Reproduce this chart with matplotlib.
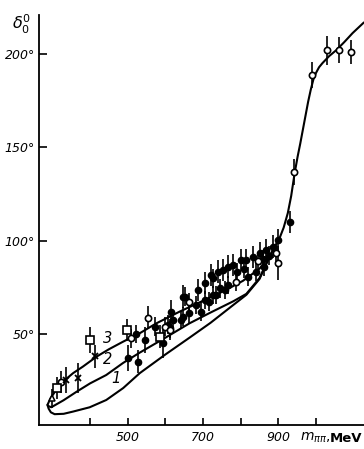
import matplotlib
matplotlib.use("Agg")
import matplotlib.pyplot as plt

# --- theory curves: phase shift delta_0^0 (deg) vs m_pipi (MeV) ---
curve3_m = [287, 295, 310, 328, 355, 381, 417, 450, 488, 532, 576, 638, 700, 760, 806, 850, 880]
curve3_d = [12, 15.5, 20, 24.4, 29, 32.5, 37.8, 41.8, 45.9, 50.4, 55.7, 62, 67.8, 73.5, 78.5, 85, 93]
curve2_m = [288, 297, 330, 364, 400, 443, 488, 532, 600, 664, 720, 780, 815, 850, 880]
curve2_d = [11.5, 10.7, 14.5, 19, 23.5, 28, 34.5, 40, 48, 55.7, 61.5, 67.5, 71.5, 80, 93]
curve1_m = [287, 290, 296, 306, 330, 355, 399, 443, 488, 532, 600, 664, 720, 780, 815, 850, 880]
curve1_d = [12, 10, 8, 7, 7.2, 8.4, 10.7, 14.6, 21, 29, 39, 48, 56, 65.5, 71, 79.5, 93]
main_m = [880, 890, 903, 914, 925, 934, 943, 951, 958, 965, 972, 979, 986, 993, 1000, 1008, 1017, 1035, 1054, 1075, 1097, 1127]
main_d = [93, 96.8, 101.3, 107, 114.8, 124, 136, 145, 152, 159.5, 167, 174.5, 181, 186.5, 190, 193, 195.2, 199, 202.2, 206.5, 211.3, 217]

# --- experimental points: mass, phase, error ---
filled_m = [501, 527, 523, 545, 572, 594, 607, 616, 620, 642, 651, 647, 686, 704, 722, 726,
            740, 753, 766, 779, 801, 815, 832, 850, 868, 885, 899, 932,
            611, 647, 664, 682, 695, 704, 717, 726, 735, 744, 757, 766, 819, 841, 863,
            790, 808, 858, 876]
filled_d = [37, 35.2, 50, 46.8, 54, 45, 55, 62, 57.5, 57.5, 70, 70, 73.6, 77.2, 81.6, 79.8,
            83.4, 84.3, 86.1, 87, 89.7, 89.7, 91.4, 93.2, 95, 96.8, 100.4, 110,
            53, 59.3, 61, 65.5, 62, 68.2, 67.3, 70.9, 70.9, 74.5, 73.6, 76.3, 80.7, 83.4, 86,
            83, 85, 90, 92]
filled_e = [7, 6, 5, 7, 5, 8, 5, 6, 5, 5, 5, 6, 6, 6, 6, 5,
            6, 6, 6, 6, 6, 6, 6, 6, 6, 6, 6, 6,
            5, 5, 5, 5, 5, 5, 5, 5, 5, 5, 5, 5, 5, 5, 5,
            5, 5, 5, 5]

open_m = [324, 510, 554, 598, 611, 664, 788, 845, 894, 899, 941, 988, 1030, 1062, 1093]
open_d = [24.4, 47.7, 58.8, 53.9, 52, 66.9, 78, 89, 93.2, 88, 137, 189, 202, 202, 201]
open_e = [6, 5, 6, 5, 5, 5, 5, 5, 5, 9, 7, 7, 8, 7, 6.5]

square_m = [311, 399, 497, 585]
square_d = [21, 46.8, 52, 48.6]
square_e = [6, 7, 6, 6]

cross_m = [337, 368, 412]
cross_d = [25.3, 26.3, 38]
cross_e = [7, 8, 6]

tri_m = [298]
tri_d = [15.5]
tri_e = [5]

x_ticks = [400, 500, 600, 700, 800, 900, 1000]
x_labels = ["", "500", "", "700", "", "900", ""]
y_ticks = [50, 100, 150, 200]
y_labels = ["50°", "100°", "150°", "200°"]

W, H = 364, 449
fig = plt.figure(figsize=(W / 100, H / 100), dpi=100)
ax = fig.add_axes([39 / W, (H - 425) / H, (W - 39) / W, (425 - 15) / H])
ax.set_xlim(264.5, 1127.3)
ax.set_ylim(1.2, 221)

for s in ("top", "right"):
    ax.spines[s].set_visible(False)
for s in ("left", "bottom"):
    ax.spines[s].set_linewidth(1.3)

lw = 1.5
ax.plot(curve3_m, curve3_d, color="black", lw=lw, solid_capstyle="round")
ax.plot(curve2_m, curve2_d, color="black", lw=lw, solid_capstyle="round")
ax.plot(curve1_m, curve1_d, color="black", lw=lw, solid_capstyle="round")
ax.plot(main_m, main_d, color="black", lw=lw, solid_capstyle="round", solid_joinstyle="round")

eb = dict(fmt="none", ecolor="black", elinewidth=1.2, capsize=0, zorder=3)
ax.errorbar(filled_m, filled_d, yerr=filled_e, **eb)
ax.errorbar(open_m, open_d, yerr=open_e, **eb)
ax.errorbar(square_m, square_d, yerr=square_e, **eb)
ax.errorbar(cross_m, cross_d, yerr=cross_e, **eb)
ax.errorbar(tri_m, tri_d, yerr=tri_e, **eb)

ax.plot(filled_m, filled_d, "o", ms=4.5, mfc="black", mec="black", zorder=4)
ax.plot(open_m, open_d, "o", ms=4.5, mfc="white", mec="black", mew=1.2, zorder=4)
ax.plot(square_m, square_d, "s", ms=5.2, mfc="white", mec="black", mew=1.2, zorder=4)
ax.plot(cross_m, cross_d, "x", ms=4.5, mec="black", mew=1.3, zorder=4)
ax.plot(tri_m, tri_d, "^", ms=4.5, mfc="white", mec="black", mew=1.1, zorder=4)

# curve labels
lab = dict(fontsize=10.5, style="italic", color="black", ha="center", va="center")
ax.text(447, 47.5, "3", **lab)
ax.text(447, 36.5, "2", **lab)
ax.text(468, 26, "1", **lab)

ax.set_xticks(x_ticks)
ax.set_xticklabels(x_labels, fontsize=9, style="italic")
ax.set_yticks(y_ticks)
ax.set_yticklabels(y_labels, fontsize=9, style="italic")
ax.tick_params(axis="x", direction="in", length=5, width=1.2, pad=4)
ax.tick_params(axis="y", direction="in", length=6, width=1.2, pad=3)

fig.text(22 / W, 1 - 24 / H, r"$\delta_0^0$", fontsize=11.5, ha="center", va="center")
fig.text(300 / W, 1 - 438 / H, r"$m_{\pi\pi}$,", fontsize=10, ha="left", va="center")
fig.text(330 / W, 1 - 438 / H, "MeV", fontsize=9.5, fontweight="bold", ha="left", va="center")

fig.savefig("out.png", dpi=100)
